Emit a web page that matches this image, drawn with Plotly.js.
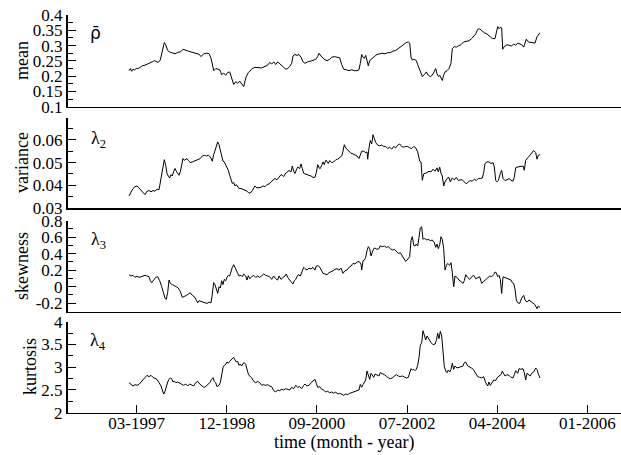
<!DOCTYPE html>
<html>
<head>
<meta charset="utf-8">
<script src="https://cdn.plot.ly/plotly-3.0.1.min.js"></script>
<style>html,body{margin:0;padding:0;background:#fff;}#chart{width:621px;height:455px;}</style>
</head>
<body>
<div id="chart"></div>
<script>
// x values: trading-week index since start of sample
var xTickVals = [7.7, 97.8, 187.9, 278.1, 368.2, 458.4];
var xTickText = ["03-1997", "12-1998", "09-2000", "07-2002", "04-2004", "01-2006"];

var meanT = [0,1.3,2.7,4,5.3,7.3,9.3,11.3,13.3,16,18.7,21.3,23.3,25.3,27.3,29.3,31.3,33.3,35.3,36.7,38.7,40.7,43.3,46,48.7,51.3,54,56.7,59.3,62,64.7,67.3,70,72,74.7,77.3,80,82,83.3,84.7,86.7,88.7,90.7,92.7,94.7,96.7,98.7,100.7,102,103.3,104.7,106.7,108.7,110.7,112.7,114.7,116,117.3,119.3,121.3,123.3,126,129.3,132.7,136,138.7,140.7,142.7,144.7,146.7,148.7,150.7,152.7,154.7,156.7,158.7,160.7,162.7,164,166,168,170,172,174,176,178.7,181.3,184,186.7,188.7,190,192,194,196,198,200.7,202.7,205.3,208,210.7,212.7,214.7,217.3,220,222.7,225.3,228,230,231.3,232.7,234,235.3,236.7,238,239.3,240.7,242.7,245.3,248,250.7,253.3,256,258.7,261.3,264,266.7,269.3,272,274.7,277.3,279.3,280.7,282,283.3,285.3,287.3,288.7,290.7,292,293.3,295.3,297.3,299.3,301.3,303.3,305.3,306.7,308,309.3,310.7,312,313.3,314.7,316,318,320,322,323.3,325.3,327.3,329.3,332,334.7,337.3,340,342.7,344.7,346.7,348.7,350.7,352.7,355.3,358,360.7,363.3,366,367.3,368.7,370,371.3,372.7,373.7,375.3,378,380,382.7,384.7,386.7,388.7,390.7,392.7,394.7,396,397.3,399.3,402,404,406,408,409.3,411];
var meanV = [0.218,0.225,0.216,0.223,0.220,0.225,0.225,0.229,0.234,0.236,0.240,0.242,0.247,0.251,0.247,0.245,0.253,0.282,0.310,0.303,0.284,0.279,0.277,0.273,0.278,0.279,0.288,0.286,0.282,0.279,0.277,0.273,0.272,0.264,0.273,0.275,0.274,0.259,0.242,0.218,0.225,0.223,0.221,0.205,0.210,0.203,0.212,0.214,0.201,0.184,0.173,0.182,0.177,0.184,0.175,0.166,0.184,0.199,0.212,0.218,0.225,0.229,0.229,0.227,0.232,0.236,0.245,0.240,0.247,0.238,0.247,0.240,0.236,0.229,0.223,0.225,0.232,0.242,0.266,0.271,0.268,0.271,0.262,0.247,0.242,0.247,0.249,0.251,0.255,0.264,0.275,0.266,0.260,0.253,0.251,0.255,0.262,0.264,0.262,0.260,0.238,0.223,0.221,0.218,0.221,0.218,0.218,0.221,0.242,0.271,0.262,0.258,0.268,0.253,0.234,0.251,0.258,0.264,0.271,0.273,0.275,0.273,0.277,0.277,0.282,0.284,0.290,0.299,0.303,0.310,0.312,0.308,0.262,0.253,0.255,0.251,0.238,0.221,0.214,0.199,0.205,0.214,0.203,0.199,0.203,0.214,0.225,0.208,0.199,0.203,0.192,0.186,0.203,0.214,0.218,0.225,0.242,0.290,0.297,0.295,0.299,0.303,0.312,0.314,0.316,0.323,0.329,0.338,0.353,0.355,0.349,0.342,0.338,0.329,0.323,0.323,0.340,0.362,0.355,0.360,0.358,0.288,0.297,0.303,0.301,0.299,0.305,0.301,0.308,0.305,0.303,0.295,0.310,0.321,0.312,0.310,0.310,0.308,0.329,0.336,0.342];

var varT = [0,2,4,6,8,10,12,14,16,18,20,22,24,26,28,30,31.3,32.7,34,35.3,36.7,38,39.3,40.7,42,43.3,44.7,46,47.3,48.7,50,51.3,52.7,54,55.3,56.7,58,59.3,61.3,63.3,65.3,67.3,69.3,71.3,73.3,75.3,77.3,79.3,81.3,83.3,84.7,86.7,88.7,90,91.3,92.7,94,95.3,96.7,98,99.3,100.7,102,103.3,104.7,106,107.3,108.7,110,112,114,116,118,120,122,123.3,124.7,126,128,130,132,134,136,138,140,142,144,146,148,150,152,153.3,154.7,156,158,160,162,163.3,164.7,166,167.3,168.7,170.7,172,173.3,174.7,176,178,180,182,184,186,187.3,188.7,190,191.3,192.7,194,195.3,196.7,198,199.3,200.7,202.7,204.7,206.7,208.7,210.7,212.7,214,215.3,216.7,218,220,222,224,226,228,230,231.3,232.7,234.7,236.7,238,238.7,240,241.3,242.7,244,245.3,246.7,248.7,250.7,252.7,254.7,256.7,258.7,260.7,262.7,264.7,266.7,268.7,270.7,272.7,274.7,276.7,278.7,280.7,282.7,284.7,286.7,288.7,290.7,292,293.3,294.7,296,298,300,302,304,306,308,309.3,310.7,312,313.3,314.7,316,318,320,321.3,323.3,325.3,327.3,329.3,331.3,333.3,335.3,337.3,339.3,341.3,343.3,345.3,347.3,349.3,351.3,353.3,354.7,356,358,360,362,364,365.3,366.7,368,369.3,371.3,372.7,374,376,378,380,382,384,385.3,386.7,388,390,392,394,395.3,396.7,398.7,400.7,402.7,404.7,406.7,408,409.3,411];
var varV = [0.0353,0.0371,0.0386,0.0394,0.0397,0.0388,0.0377,0.0365,0.0359,0.0374,0.0377,0.0371,0.0377,0.0374,0.0383,0.0380,0.0415,0.0447,0.0474,0.0513,0.0488,0.0452,0.0441,0.0432,0.0447,0.0441,0.0462,0.0474,0.0462,0.0450,0.0444,0.0459,0.0488,0.0518,0.0510,0.0515,0.0518,0.0510,0.0500,0.0503,0.0506,0.0510,0.0515,0.0518,0.0529,0.0532,0.0529,0.0532,0.0525,0.0506,0.0535,0.0559,0.0591,0.0579,0.0550,0.0532,0.0506,0.0503,0.0491,0.0477,0.0466,0.0444,0.0422,0.0408,0.0412,0.0397,0.0403,0.0391,0.0386,0.0386,0.0383,0.0380,0.0374,0.0365,0.0368,0.0377,0.0391,0.0397,0.0388,0.0388,0.0391,0.0397,0.0394,0.0403,0.0406,0.0415,0.0424,0.0430,0.0424,0.0435,0.0447,0.0444,0.0438,0.0450,0.0456,0.0465,0.0459,0.0485,0.0462,0.0452,0.0468,0.0480,0.0474,0.0494,0.0474,0.0453,0.0450,0.0447,0.0447,0.0441,0.0435,0.0435,0.0456,0.0491,0.0477,0.0474,0.0488,0.0503,0.0491,0.0510,0.0506,0.0496,0.0509,0.0500,0.0503,0.0512,0.0515,0.0524,0.0529,0.0550,0.0579,0.0565,0.0559,0.0550,0.0541,0.0538,0.0535,0.0529,0.0518,0.0532,0.0550,0.0550,0.0544,0.0547,0.0515,0.0565,0.0597,0.0582,0.0623,0.0606,0.0588,0.0577,0.0574,0.0577,0.0571,0.0571,0.0562,0.0568,0.0559,0.0571,0.0565,0.0577,0.0582,0.0571,0.0568,0.0571,0.0571,0.0565,0.0562,0.0571,0.0565,0.0547,0.0506,0.0503,0.0422,0.0450,0.0452,0.0456,0.0462,0.0459,0.0471,0.0462,0.0477,0.0459,0.0480,0.0452,0.0441,0.0397,0.0415,0.0430,0.0435,0.0415,0.0432,0.0424,0.0435,0.0421,0.0424,0.0424,0.0415,0.0406,0.0415,0.0421,0.0418,0.0427,0.0421,0.0430,0.0430,0.0432,0.0456,0.0496,0.0503,0.0503,0.0496,0.0500,0.0481,0.0422,0.0415,0.0421,0.0452,0.0466,0.0430,0.0421,0.0424,0.0430,0.0422,0.0418,0.0435,0.0477,0.0480,0.0481,0.0482,0.0485,0.0466,0.0510,0.0521,0.0532,0.0547,0.0553,0.0544,0.0515,0.0532,0.0535];

var skewT = [0,2,4,6,8,10,12,14,16,18,20,21.3,22.7,24.7,26.7,28.7,30.7,32.7,34.7,36,37.3,38.7,40,41.3,43.3,45.3,47.3,49.3,51.3,53.3,55.3,57.3,59.3,61.3,63.3,65.3,67.3,68.7,70,72,74,76,78,80,82,83.3,84.7,86,87.3,88.7,90,91.3,92.7,94,95.3,96.7,98,99.3,100.7,102,103.3,104.7,106,107.3,108.7,110,112,113.3,114.7,116.7,118,119.3,120.7,122.7,124.7,126.7,128.7,130.7,132.7,134.7,136.7,138.7,140.7,142.7,144.7,146.7,148.7,150,152,154,156,157.3,158.7,160.7,162.7,164,165.3,166.7,168,169.3,171.3,173.3,174.7,176,178,180,182,184,186,187.3,189.3,191.3,192.7,194,196,198,200,202,204,206,208,210,212,214,216,218,220,222,224,226,228,230,232,232.7,234,235.3,236.7,238,239.3,240.7,242,243.3,244.7,246,248,250,251.3,253.3,255.3,257.3,259.3,261.3,263.3,265.3,267.3,269.3,271.3,273.3,275.3,276.7,278,279.3,280.7,282,283.3,284.7,286,287.3,288.7,290,291.3,292.7,294,295.3,297.3,299.3,301.3,303.3,305.3,306.7,308,309.3,310.7,312,313.3,314.7,316,317.3,318.7,320.7,322,323.3,324.7,326,328,330,332,334,335.3,336.7,338.7,340.7,342.7,344.7,346.7,348.7,350.7,352.7,354.7,356.7,358.7,360.7,362.7,364.7,366,367.3,368.7,370,371.3,372.7,374,376,378,380,382,383.3,384.7,386,387.3,388.7,390.7,392.7,394.7,396,398,400,402,404,406,408,409.3,411];
var skewV = [0.146,0.130,0.138,0.113,0.130,0.113,0.121,0.130,0.138,0.130,0.121,0.073,0.049,0.081,0.113,0.121,0.073,0.000,-0.081,-0.137,-0.153,-0.068,0.081,0.041,0.025,0.016,0.000,-0.016,-0.056,-0.129,-0.121,-0.105,-0.089,-0.072,-0.105,-0.121,-0.161,-0.194,-0.169,-0.177,-0.186,-0.194,-0.202,-0.186,-0.194,-0.089,0.049,0.025,-0.028,-0.081,0.000,-0.016,0.073,0.025,0.089,0.073,0.113,0.138,0.130,0.194,0.235,0.267,0.226,0.186,0.162,0.130,0.138,0.121,0.154,0.130,0.081,0.134,0.097,0.121,0.138,0.113,0.130,0.113,0.138,0.154,0.138,0.130,0.121,0.089,0.130,0.097,0.081,0.130,0.089,0.113,0.130,0.154,0.113,0.081,0.057,0.033,0.073,0.089,0.121,0.146,0.130,0.186,0.235,0.218,0.202,0.226,0.214,0.235,0.202,0.251,0.255,0.226,0.194,0.162,0.154,0.146,0.170,0.178,0.194,0.210,0.218,0.202,0.226,0.162,0.194,0.202,0.235,0.251,0.283,0.275,0.299,0.307,0.275,0.202,0.315,0.323,0.356,0.437,0.485,0.461,0.372,0.420,0.461,0.469,0.453,0.461,0.497,0.485,0.493,0.477,0.485,0.461,0.445,0.453,0.429,0.404,0.412,0.372,0.340,0.307,0.323,0.348,0.364,0.558,0.606,0.501,0.493,0.517,0.493,0.598,0.711,0.727,0.574,0.590,0.566,0.574,0.558,0.566,0.534,0.477,0.517,0.461,0.509,0.606,0.574,0.461,0.202,0.255,0.283,0.259,0.291,0.170,0.000,0.130,0.113,0.081,0.057,0.041,0.073,0.146,0.113,0.089,0.121,0.138,0.097,0.105,0.121,0.041,0.065,0.089,0.113,0.130,0.121,0.146,0.178,0.170,0.121,0.138,0.089,-0.081,0.121,0.113,0.105,0.089,0.081,0.049,0.041,-0.028,-0.161,-0.194,-0.202,-0.137,-0.105,-0.161,-0.186,-0.161,-0.177,-0.194,-0.218,-0.266,-0.234,-0.250];

var kurtT = [0,2,4,6,8,10,12,14,16,18,20,22,24,26,28,30,32,33.3,34.7,36,37.3,38.7,40,41.3,42.7,44,45.3,46.7,48.7,50.7,52.7,54.7,56.7,58.7,60.7,62.7,64.7,66.7,68.7,70.7,72.7,74.7,76.7,78.7,80.7,82.7,84,85.3,86.7,88,90,91.3,92.7,94,95.3,96.7,98,99.3,100.7,102,103.3,104.7,106,107.3,108.7,110,111.3,112.7,114,115.3,116.7,118,119.3,120.7,122.7,124.7,126.7,128.7,130.7,132.7,134.7,136.7,138.7,140.7,142.7,144.7,146.7,148.7,150.7,152.7,154.7,156.7,158.7,160.7,162.7,164.7,166.7,168.7,170.7,172.7,174.7,176,178,180,182,184,186,187.3,188.7,190.7,192.7,194.7,196.7,198.7,200.7,202.7,204.7,206.7,208.7,210.7,212.7,214.7,216.7,218.7,220.7,222.7,224.7,226.7,228.7,230,231.3,232.7,234,235.3,236.7,238,239.3,240.7,242,243.3,244.7,246,248,250,251.3,253.3,255.3,257.3,259.3,261.3,263.3,265.3,267.3,269.3,271.3,273.3,275.3,277.3,279.3,280.7,282,283.3,284.7,286,287.3,288.7,290,291.3,292.7,294,295.3,296.7,298,300,302,304,306,307.3,308.7,310,311.3,312.7,314,315.3,316.7,318,319.3,320.7,322,323.3,324.7,326,328,330,332,334,335.3,336.7,338.7,340.7,342.7,344.7,346.7,348.7,350.7,352.7,354.7,356.7,358.7,360,361.3,362.7,364.7,366.7,368,370,372,373.3,374.7,376,378,380,382,384,385.3,386.7,388.7,390,392,394,395.3,396.7,398,399.3,401.3,402.7,404.7,406.7,408,409.3,411];
var kurtV = [2.660,2.631,2.587,2.616,2.601,2.623,2.675,2.733,2.792,2.821,2.792,2.821,2.777,2.763,2.733,2.660,2.587,2.499,2.411,2.470,2.587,2.675,2.733,2.763,2.748,2.675,2.697,2.660,2.675,2.645,2.616,2.601,2.631,2.587,2.631,2.601,2.587,2.660,2.689,2.631,2.587,2.558,2.572,2.616,2.660,2.733,2.770,2.689,2.660,2.572,2.601,2.660,2.807,2.990,3.041,3.063,3.114,3.085,3.129,3.158,3.188,3.217,3.158,3.114,3.129,3.041,3.070,3.026,3.085,3.100,3.063,2.968,2.851,2.807,2.763,2.689,2.660,2.689,2.660,2.601,2.616,2.601,2.616,2.587,2.572,2.484,2.455,2.499,2.484,2.514,2.499,2.528,2.514,2.499,2.558,2.528,2.601,2.558,2.572,2.528,2.601,2.631,2.587,2.601,2.660,2.689,2.733,2.645,2.558,2.572,2.514,2.499,2.455,2.470,2.440,2.455,2.426,2.455,2.411,2.426,2.396,2.382,2.411,2.396,2.426,2.440,2.455,2.470,2.484,2.499,2.623,2.558,2.616,2.660,2.719,2.916,2.807,2.733,2.865,2.821,2.777,2.851,2.836,2.807,2.880,2.865,2.836,2.807,2.763,2.748,2.763,2.807,2.836,2.807,2.792,2.807,2.792,2.763,2.777,2.865,2.968,2.938,2.953,2.924,2.953,3.041,3.210,3.481,3.539,3.803,3.671,3.598,3.686,3.598,3.539,3.495,3.510,3.583,3.744,3.627,3.788,3.686,3.393,3.012,2.916,2.880,2.938,2.895,2.953,3.085,2.953,3.026,2.982,2.997,3.026,3.026,3.100,3.114,3.026,3.012,2.982,2.938,2.865,2.792,2.777,2.763,2.792,2.660,2.587,2.675,2.601,2.660,2.719,2.704,2.763,2.807,2.836,2.916,2.865,2.807,2.836,2.821,2.777,2.763,2.836,2.924,2.865,2.968,2.953,2.968,2.880,2.719,2.865,2.836,2.807,2.865,2.895,2.982,2.953,2.851,2.763];

var meanTickVals = [0.1,0.15,0.2,0.25,0.3,0.35,0.4];
var meanTickText = ["0.1","0.15","0.2","0.25","0.3","0.35","0.4"];
var varTickVals = [0.03,0.04,0.05,0.06];
var varTickText = ["0.03","0.04","0.05","0.06"];
var skewTickVals = [-0.2,0,0.2,0.4,0.6,0.8];
var skewTickText = ["-0.2","0","0.2","0.4","0.6","0.8"];
var kurtTickVals = [2,2.5,3,3.5,4];
var kurtTickText = ["2","2.5","3","3.5","4"];

var W = 621, H = 455;
function px(x){ return x / W; }
function py(y){ return 1 - y / H; }

var serif = "Liberation Serif";
var xDom = [px(67.5), 1];
var xRange = [-61.5, 492];

function xa(anchor, bottom){
  var a = {domain: xDom, anchor: anchor, range: xRange, showline: true, linecolor: '#000', linewidth: 1.5,
    showgrid: false, zeroline: false, ticks: '', showticklabels: false, fixedrange: true};
  if (bottom){
    a.ticks = 'inside'; a.ticklen = 8; a.tickwidth = 1; a.tickcolor = '#000';
    a.showticklabels = true; a.tickmode = 'array'; a.tickvals = xTickVals; a.ticktext = xTickText;
    a.tickfont = {family: serif, size: 17, color: '#000'};
    a.ticklabelstandoff = -6;
  }
  return a;
}
function ya(anchor, dom, range, tv, tt, minorD){
  return {domain: dom, anchor: anchor, range: range, showline: true, linecolor: '#000', linewidth: 1.5,
    showgrid: false, zeroline: false, ticks: 'inside', ticklen: 8, tickwidth: 1, tickcolor: '#000',
    tickmode: 'array', tickvals: tv, ticktext: tt, tickfont: {family: serif, size: 17, color: '#000'},
    minor: {ticks: 'inside', ticklen: 5, tickwidth: 1, tickcolor: '#000', dtick: minorD, tick0: range[0], showgrid: false},
    fixedrange: true};
}

var line = {color: '#000', width: 1};
var data = [
  {x: meanT, y: meanV, xaxis: 'x', yaxis: 'y', mode: 'lines', line: line, hoverinfo: 'skip'},
  {x: varT, y: varV, xaxis: 'x2', yaxis: 'y2', mode: 'lines', line: line, hoverinfo: 'skip'},
  {x: skewT, y: skewV, xaxis: 'x3', yaxis: 'y3', mode: 'lines', line: line, hoverinfo: 'skip'},
  {x: kurtT, y: kurtV, xaxis: 'x4', yaxis: 'y4', mode: 'lines', line: line, hoverinfo: 'skip'}
];

function ann(text, x, y, size, angle, fam){
  return {text: text, x: px(x), y: py(y), xref: 'paper', yref: 'paper', showarrow: false,
    xanchor: 'center', yanchor: 'middle', textangle: angle || 0,
    font: {family: fam || serif, size: size, color: '#000'}};
}

var layout = {
  width: W, height: H, margin: {l: 0, r: 0, t: 0, b: 0, pad: 0},
  paper_bgcolor: '#fff', plot_bgcolor: '#fff', showlegend: false,
  font: {family: serif, size: 17, color: '#000'},
  xaxis: xa('y', false),
  xaxis2: xa('y2', false),
  xaxis3: xa('y3', false),
  xaxis4: xa('y4', true),
  yaxis: ya('x', [py(106.8), py(15)], [0.1, 0.4], meanTickVals, meanTickText, 0.025),
  yaxis2: ya('x2', [py(208), py(118.1)], [0.03, 0.0696], varTickVals, varTickText, 0.005),
  yaxis3: ya('x3', [py(311.5), py(220.7)], [-0.3, 0.8], skewTickVals, skewTickText, 0.1),
  yaxis4: ya('x4', [py(412.7), py(321.7)], [2, 4], kurtTickVals, kurtTickText, 0.25),
  annotations: [
    ann('mean', 22, 61, 18, -90),
    ann('variance', 22, 163, 18, -90),
    ann('skewness', 22, 266, 18, -90),
    ann('kurtosis', 30, 367, 18, -90),
    ann('ρ̄', 95, 33, 17, 0, 'DejaVu Sans'),
    ann('λ<sub>2</sub>', 98, 139, 18, 0),
    ann('λ<sub>3</sub>', 98, 240, 18, 0),
    ann('λ<sub>4</sub>', 98, 341, 18, 0),
    ann('time (month - year)', 344, 442, 18, 0)
  ]
};

Plotly.newPlot('chart', data, layout, {displayModeBar: false, staticPlot: true});
</script>
</body>
</html>
